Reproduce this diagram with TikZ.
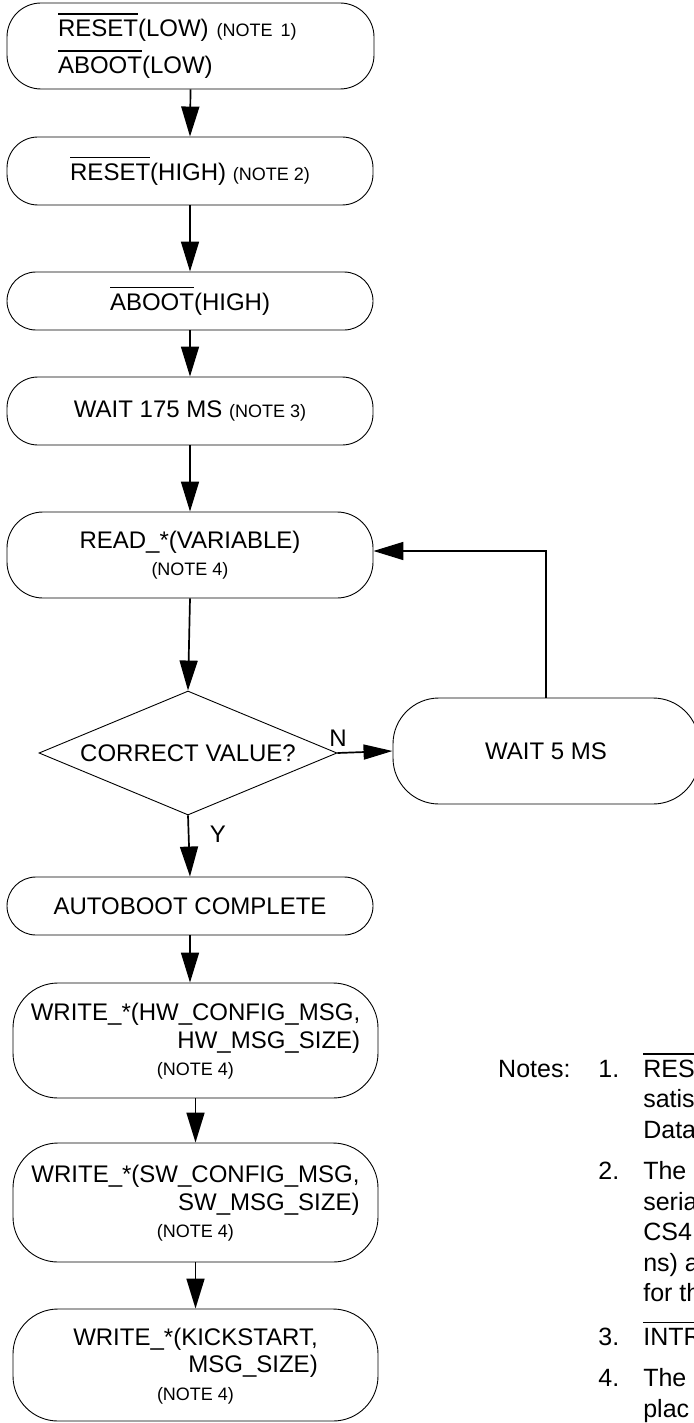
\documentclass[tikz,border=0pt]{standalone}
\usepackage{fontspec}
\setmainfont{Liberation Sans}
\usepackage{tikz}
\usetikzlibrary{arrows.meta,shapes.geometric}
\newcommand{\ovl}[1]{\leavevmode\setbox0=\hbox{#1}\rlap{\rule[\dimexpr\ht0+5pt\relax]{\wd0}{1.5pt}}\box0}
\newcommand{\notefont}{\fontsize{18}{20}\selectfont}

\begin{document}
\begin{tikzpicture}[x=1pt, y=-1pt,
    box/.style={draw, line width=0.9pt, rounded corners=29pt, minimum width=366pt, inner sep=0pt, align=center, font=\fontsize{24}{27.5}\selectfont},
    arr/.style={line width=1.7pt, -{Triangle[length=30pt,width=18pt]}},
    lbl/.style={inner sep=0pt, font=\fontsize{24}{27.5}\selectfont}]
    \useasboundingbox (0,0) rectangle (693,1423);
    \node[box, minimum height=86pt, rounded corners=34pt, text width=265pt, inner xsep=51pt, align=left] (rstlow) at (190.5,46) {\ovl{RESET}(LOW) {\notefont (NOTE 1)}\\[8pt]\ovl{ABOOT}(LOW)};
    \node[box, minimum height=68pt, rounded corners=31pt] (rsthigh) at (190,171) {\ovl{RESET}(HIGH) {\notefont (NOTE 2)}};
    \node[box, minimum height=58pt] (abthigh) at (190,301) {\ovl{ABOOT}(HIGH)};
    \node[box, minimum height=68pt, rounded corners=31pt] (wait175) at (190,411) {WAIT 175 MS {\notefont (NOTE 3)}};
    \node[box, minimum height=86pt, rounded corners=36pt] (readvar) at (190,555) {READ\_*(VARIABLE)\\{\notefont (NOTE 4)}};
    \node[draw, line width=0.9pt, diamond, aspect=2.4, inner sep=0pt, minimum width=298pt, minimum height=124pt, font=\fontsize{24}{27.5}\selectfont] (correct) at (188,753) {CORRECT VALUE?};
    \node[box, minimum width=306pt, minimum height=106pt, rounded corners=46pt] (wait5) at (546,751) {WAIT 5 MS};
    \node[box, minimum height=58pt] (abdone) at (190,906) {AUTOBOOT COMPLETE};
    \node[box, minimum width=365pt, minimum height=115pt, rounded corners=45pt] (hwcfg) at (195.5,1040.5) {\begin{tabular}[b]{@{}r@{}}WRITE\_*(HW\_CONFIG\_MSG,\\HW\_MSG\_SIZE)\end{tabular}\\{\notefont (NOTE 4)}};
    \node[box, minimum width=365pt, minimum height=119pt, rounded corners=45pt] (swcfg) at (195.5,1202.5) {\begin{tabular}[b]{@{}r@{}}WRITE\_*(SW\_CONFIG\_MSG,\\SW\_MSG\_SIZE)\end{tabular}\\{\notefont (NOTE 4)}};
    \node[box, minimum width=365pt, minimum height=112pt, rounded corners=45pt] (kick) at (195.5,1365) {\begin{tabular}[b]{@{}r@{}}WRITE\_*(KICKSTART,\\MSG\_SIZE)\end{tabular}\\{\notefont (NOTE 4)}};
    \draw[arr] (rstlow.south) -- (rsthigh.north);
    \draw[arr] (rsthigh.south) -- (abthigh.north);
    \draw[arr] (abthigh.south) -- (wait175.north);
    \draw[arr] (wait175.south) -- (readvar.north);
    \draw[arr] (readvar.south) -- (correct.north);
    \draw[arr, -{Triangle[length=29pt,width=15pt]}] (correct.east) node[lbl, anchor=base west, xshift=-9pt, yshift=7pt] {N} -- (wait5.west);
    \draw[arr] (wait5.north) |- ([yshift=4pt]readvar.east);
    \draw[arr] (correct.south) node[lbl, anchor=base west, xshift=21pt, yshift=-27pt] {Y} -- (abdone.north);
    \draw[arr] (abdone.south) -- (abdone.south |- hwcfg.north);
    \draw[arr] (hwcfg.south) -- (swcfg.north);
    \draw[arr] (swcfg.south) -- (kick.north);
    \node[anchor=base west, inner sep=0pt, font=\fontsize{25}{30.5}\selectfont] (notes) at (498,1077) {\begin{tabular}[t]{@{}l@{\hspace{28pt}}l@{\hspace{24pt}}l@{}}
        Notes: & 1. & \ovl{RES\hspace{12pt}}\\
        & & satis\\
        & & Data\\[11pt]
        & 2. & The\\
        & & seria\\
        & & CS4\\
        & & ns) a\\
        & & for th\\[11pt]
        & 3. & \ovl{INTR\hspace{12pt}}\\[11pt]
        & 4. & The\\
        & & plac
    \end{tabular}};
\end{tikzpicture}
\end{document}
